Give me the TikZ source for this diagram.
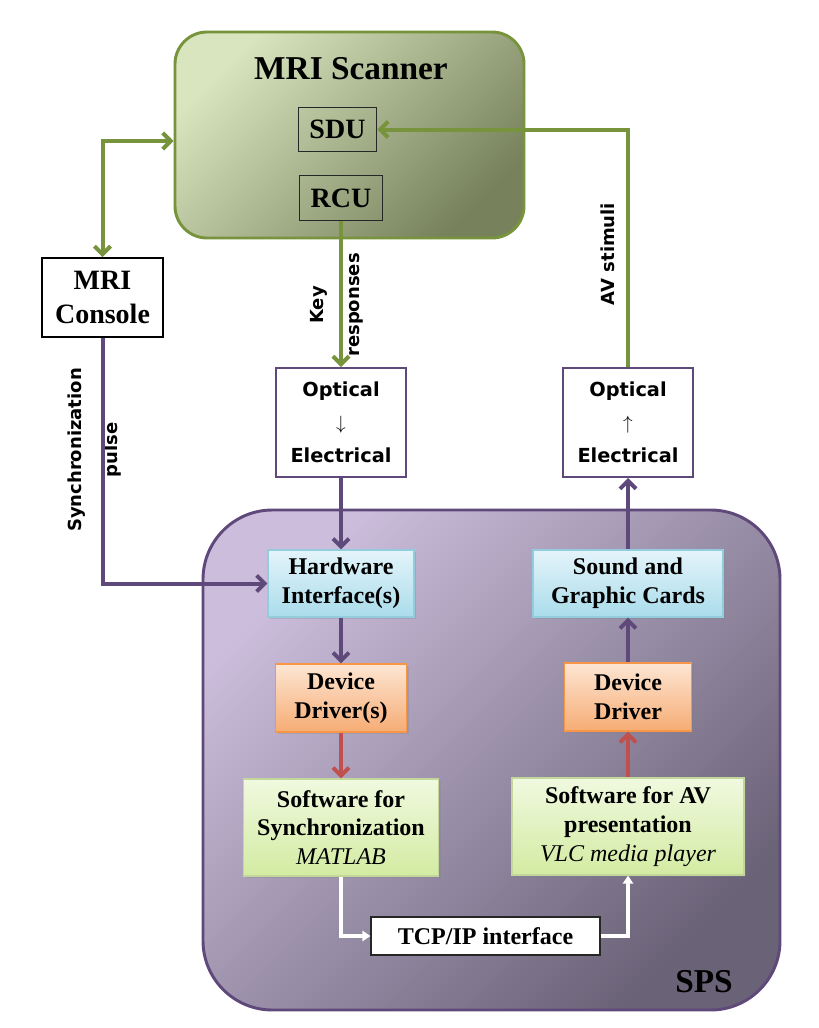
\documentclass[tikz,border=0pt]{standalone}
\usepackage{fontspec}
\setmainfont{Liberation Serif}
\newfontfamily\labelfont{DejaVu Sans}
\usetikzlibrary{arrows.meta, positioning, shadows}

\definecolor{mrigreen}{HTML}{77933C}
\definecolor{scantop}{HTML}{D9E5BF}
\definecolor{scanbottom}{HTML}{77825C}
\definecolor{spsedge}{HTML}{5F497A}
\definecolor{spstop}{HTML}{CBBDDB}
\definecolor{spsbottom}{HTML}{6A6277}
\definecolor{drvred}{HTML}{C0504D}
\definecolor{hwedge}{HTML}{93CDDD}
\definecolor{hwtop}{HTML}{E4F4FA}
\definecolor{hwbottom}{HTML}{AADCEB}
\definecolor{ddedge}{HTML}{F79646}
\definecolor{ddtop}{HTML}{FDE6D3}
\definecolor{ddbottom}{HTML}{F6AC74}
\definecolor{swedge}{HTML}{C3D69B}
\definecolor{swtop}{HTML}{F0F9DF}
\definecolor{swbottom}{HTML}{D3EBA2}

\begin{document}
\begin{tikzpicture}[
    x=0.75pt, y=-0.75pt,
    >={Straight Barb[length=6pt, width=12pt]},
    block/.style={rectangle, draw, inner sep=0pt, align=center, font=\bfseries\fontsize{18}{21.5}\selectfont},
    shadowed/.style={drop shadow={opacity=0.25, shadow xshift=1.5pt, shadow yshift=-1.5pt}},
    hwblock/.style={block, shadowed, draw=hwedge, line width=0.8pt, top color=hwtop, bottom color=hwbottom},
    ddblock/.style={block, shadowed, draw=ddedge, line width=0.8pt, top color=ddtop, bottom color=ddbottom},
    swblock/.style={block, shadowed, draw=swedge, line width=0.8pt, top color=swtop, bottom color=swbottom},
    unitbox/.style={rectangle, draw=black!85, line width=0.8pt, inner xsep=8.5pt, minimum height=33.5pt, font=\bfseries\fontsize{21}{25}\selectfont},
    convbox/.style={rectangle, draw=spsedge, fill=white, line width=1.5pt, align=center, minimum width=97.5pt, minimum height=81.75pt, font=\labelfont\bfseries\fontsize{14.5}{24.75}\selectfont},
    vlabel/.style={rotate=90, align=center, font=\labelfont\bfseries\fontsize{13.5}{27}\selectfont},
    garrow/.style={line width=3pt, draw=mrigreen, ->},
    parrow/.style={line width=3pt, draw=spsedge, ->},
    rarrow/.style={line width=3pt, draw=drvred, ->},
    warrow/.style={line width=2.4pt, draw=white, -{Triangle[length=6pt, width=7.5pt]}}
]

\useasboundingbox (0,0) rectangle (818,1028);

\node (sps) [rectangle, draw=spsedge, line width=2.2pt, rounded corners=52pt, top color=spstop, bottom color=spsbottom, shading angle=45, minimum width=432.75pt, minimum height=375pt] at (491.5,760) {};
\node (spstitle) [anchor=base, font=\bfseries\fontsize{25}{30}\selectfont] at (704,992) {SPS};

\node (scanner) [rectangle, draw=mrigreen, line width=2.2pt, rounded corners=24pt, top color=scantop, bottom color=scanbottom, shading angle=45, minimum width=261.75pt, minimum height=154.5pt] at (349.5,135) {};
\node (scantitle) [anchor=base, font=\bfseries\fontsize{25}{30}\selectfont] at (351,79) {MRI Scanner};
\node (sdu) [unitbox] at (337.5,129.5) {SDU};
\node (rcu) [unitbox] at (341,198) {RCU};

\node (console) [block, fill=white, line width=1.5pt, minimum width=90.75pt, minimum height=59.25pt, font=\bfseries\fontsize{21}{25}\selectfont] at (102.5,297.5) {MRI\\Console};

\node (optin) [convbox] at (341,422.5) {Optical\\{\mdseries$\downarrow$}\\Electrical};
\node (optout) [convbox] at (628,422.5) {Optical\\{\mdseries$\uparrow$}\\Electrical};

\node (hw) [hwblock, minimum width=109.5pt, minimum height=50.25pt] at (341,583.5) {Hardware\\Interface(s)};
\node (cards) [hwblock, minimum width=142.5pt, minimum height=50.25pt] at (628,583.5) {Sound and\\Graphic Cards};
\node (ddin) [ddblock, minimum width=98.25pt, minimum height=51pt] at (341,698) {Device\\Driver(s)};
\node (ddout) [ddblock, minimum width=95.25pt, minimum height=51pt] at (628,697) {Device\\Driver};
\node (swsync) [swblock, minimum width=146.25pt, minimum height=72.75pt] at (341,827.5) {Software for\\Synchronization\\{\mdseries\itshape MATLAB}};
\node (swav) [swblock, minimum width=174pt, minimum height=72.75pt] at (628,826.5) {Software for AV\\presentation\\{\mdseries\itshape VLC media player}};
\node (tcp) [block, fill=white, draw=black!85, line width=0.8pt, minimum width=171.75pt, minimum height=28.5pt] at (485.5,936) {TCP/IP interface};

\node (keylabel) [vlabel] at (337,305) {Key\\responses};
\node (synclabel) [vlabel] at (95,450) {Synchronization\\pulse};
\node (avlabel) [vlabel] at (608,254) {AV stimuli};

\draw [garrow, <->] ([yshift=-4.5pt]scanner.west) -| (console.north);
\draw [garrow] (rcu.south) -- (optin.north);
\draw [garrow] (optout.north) |- (sdu.east);

\draw [parrow] (console.south) |- (hw.west);
\draw [parrow] (optin.south) -- (hw.north);
\draw [parrow] (hw.south) -- (ddin.north);
\draw [parrow] (ddout.north) -- (cards.south);
\draw [parrow] (cards.north) -- (optout.south);

\draw [rarrow] (ddin.south) -- (swsync.north);
\draw [rarrow] (swav.north) -- (ddout.south);

\draw [warrow] (swsync.south) |- (tcp.west);
\draw [warrow] (tcp.east) -| (swav.south);

\end{tikzpicture}
\end{document}
